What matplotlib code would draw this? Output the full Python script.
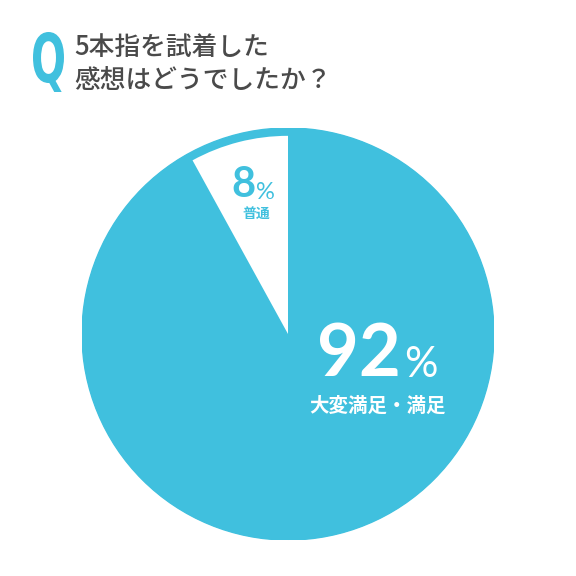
import matplotlib.pyplot as plt
from matplotlib.patches import Circle, PathPatch
from matplotlib.textpath import TextPath
from matplotlib.font_manager import FontProperties
from matplotlib.transforms import Affine2D

# data
labels = ['普通', '大変満足・満足']
values = [8, 92]
title_lines = ['5本指を試着した', '感想はどうでしたか？']

BLUE = '#40c0de'
GRAY = '#4a4a4a'
JP = ['Noto Sans CJK JP', 'DejaVu Sans']
NUM = ['Lato', 'DejaVu Sans']

W = H = 576


def px(x, y):
    # pixel (top-left origin) -> figure fraction
    return x / W, 1 - y / H


fig = plt.figure(figsize=(5.76, 5.76), dpi=100)
fig.patch.set_facecolor('white')

cx, cy, r = 288, 334, 206
ax = fig.add_axes([(cx - r) / W, (H - cy - r) / H, 2 * r / W, 2 * r / H])

ax.add_patch(Circle((0, 0), 1, color=BLUE, zorder=0))
wedges, _ = ax.pie(values, colors=['white', BLUE], startangle=90,
                   counterclock=True, radius=1)
wedges[0].set_radius(0.962)
wedges[0].set_zorder(2)
wedges[1].set_zorder(1)
ax.set_xlim(-1, 1)
ax.set_ylim(-1, 1)
ax.set_aspect('equal')
ax.axis('off')

# title
qfp = FontProperties(family='DejaVu Sans', weight='bold')
qp = TextPath((0, 0), 'Q', size=64, prop=qfp)
bb = qp.get_extents()
sx = 31 / bb.width
sy = 60 / bb.height
tr = Affine2D().translate(-bb.x0, -bb.y0).scale(sx, sy).translate(33, H - 92)
qpatch = PathPatch(tr.transform_path(qp), color=BLUE, lw=0)
qpatch.set_transform(Affine2D().scale(1 / W, 1 / H) + fig.transFigure)
fig.patches.append(qpatch)

fig.text(*px(74, 55), title_lines[0], fontsize=18.5, color=GRAY, family=JP,
         weight='medium', va='baseline', ha='left')
fig.text(*px(74, 88), title_lines[1], fontsize=18.5, color=GRAY, family=JP,
         weight='medium', va='baseline', ha='left')

# 8% label
fig.text(*px(231, 197), f'{values[0]}', fontsize=30, color=BLUE, family=NUM,
         weight='bold', va='baseline', ha='left')
fig.text(*px(256, 199), '%', fontsize=17, color=BLUE, family=NUM,
         va='baseline', ha='left')
fig.text(*px(256, 214), labels[0], fontsize=10, color=BLUE, family=JP,
         weight='bold', va='center', ha='center')

# 92% label
fig.text(*px(317, 376), f'{values[1]}', fontsize=52, color='white', family=NUM,
         weight='bold', va='baseline', ha='left')
fig.text(*px(404, 377), '%', fontsize=30, color='white', family=NUM,
         va='baseline', ha='left')
fig.text(*px(378, 406), labels[1], fontsize=14, color='white', family=JP,
         weight='bold', va='center', ha='center')

fig.savefig('out.png', dpi=100, facecolor='white')
